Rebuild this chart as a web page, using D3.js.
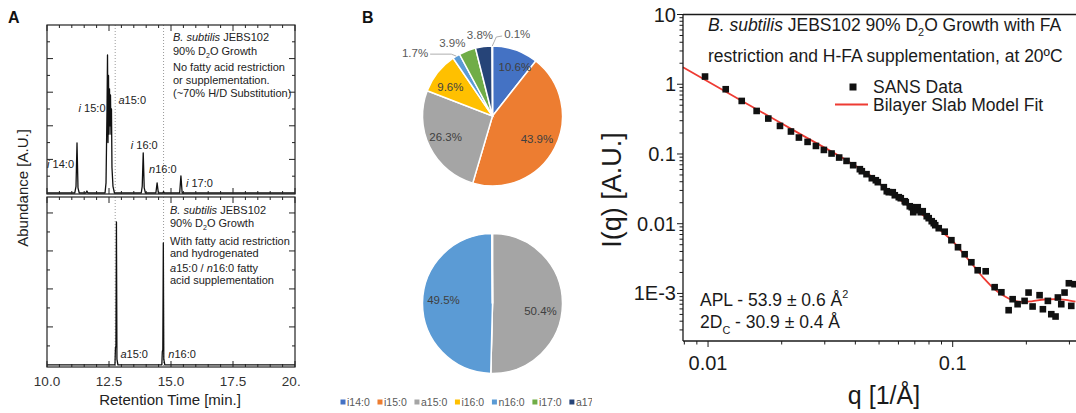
<!DOCTYPE html>
<html><head><meta charset="utf-8">
<script src="https://cdn.jsdelivr.net/npm/d3@7"></script>
<style>
body{margin:0;background:#fff}
svg{display:block}
text{font-family:Arial,"Liberation Sans",Helvetica,sans-serif}
</style>
</head><body>
<svg id="c" width="1076" height="413"></svg>
<script>
// ================= DATA =================
// Panel A – GC chromatograms
const timeMajorTicks = [10, 12.5, 15, 17.5, 20];
const timeTickLabels = ["10.0", "12.5", "15.0", "17.5", "20.0"];
const timeMinorTicks = [10.5, 11, 11.5, 12, 13, 13.5, 14, 14.5, 15.5, 16, 16.5, 17, 18, 18.5, 19, 19.5];
const abundMajorTicks = [0.2, 0.4, 0.6, 0.8];
const abundMinorTicksTop = [0.1, 0.3, 0.5, 0.7, 0.9];
const abundMinorTicksBottom = [0.1, 0.3, 0.5, 0.7];
const referenceTimes = [12.75, 14.7];

const traceTopTime = [10, 11.12, 11.17, 11.21, 11.25, 11.30, 11.57, 11.61, 11.65, 12.34, 12.38, 12.42, 12.44, 12.46, 12.48, 12.50, 12.52, 12.54, 12.56, 12.58, 12.60, 12.62, 12.66, 12.72, 13.80, 13.84, 13.88, 13.92, 13.97, 14.39, 14.44, 14.49, 14.67, 14.70, 14.73, 15.35, 15.40, 15.45, 20];
const traceTopAbund = [0, 0, 0.04, 0.298, 0.03, 0, 0, 0.012, 0, 0, 0.06, 0.50, 0.822, 0.30, 0.70, 0.35, 0.62, 0.40, 0.584, 0.35, 0.50, 0.15, 0.04, 0, 0, 0.04, 0.239, 0.03, 0, 0, 0.060, 0, 0, 0.008, 0, 0, 0.102, 0, 0];

const traceBottomTime = [10, 12.74, 12.76, 12.78, 12.80, 12.82, 12.86, 14.63, 14.65, 14.67, 14.69, 14.71, 14.75, 20];
const traceBottomAbund = [0, 0, 0.09, 0.10, 0.753, 0.03, 0, 0, 0.07, 0.08, 0.642, 0.03, 0, 0];

const peakLabelsTop = [
  {pre: "i", rest: " 14:0", t: 11.21, a: 0.298},
  {pre: "i", rest: " 15:0", t: 12.44, a: 0.822},
  {pre: "a", rest: "15:0", t: 12.56, a: 0.584},
  {pre: "i", rest: " 16:0", t: 13.88, a: 0.239},
  {pre: "n", rest: "16:0", t: 14.44, a: 0.060},
  {pre: "i", rest: " 17:0", t: 15.40, a: 0.102}
];
const peakLabelsBottom = [
  {pre: "a", rest: "15:0", t: 12.80, a: 0},
  {pre: "n", rest: "16:0", t: 14.69, a: 0}
];

// Panel B – pie charts
const pieCategories = ["i14:0", "i15:0", "a15:0", "i16:0", "n16:0", "i17:0", "a17:0", "n17:0"];
const pieColors = ["#4472C4", "#ED7D31", "#A5A5A5", "#FFC000", "#5B9BD5", "#70AD47", "#264478", "#9E480E"];
const pieTopValues = [10.6, 43.9, 26.3, 9.6, 1.7, 3.9, 3.8, 0.1];
const pieBottomValues = [0, 0, 50.4, 0, 49.5, 0, 0, 0.1];

// Panel C – SANS
const sansQ = [0.00972, 0.01181, 0.01373, 0.01580, 0.01763, 0.01968, 0.02182, 0.02352, 0.02552, 0.02760, 0.02975, 0.03198, 0.03435, 0.03682, 0.03918, 0.04173, 0.04252, 0.04444, 0.04671, 0.04850, 0.04942, 0.05229, 0.05377, 0.05481, 0.05689, 0.05799, 0.06020, 0.06135, 0.06370, 0.06429, 0.06677, 0.06801, 0.06898, 0.07063, 0.07197, 0.07403, 0.07543, 0.07832, 0.07980, 0.08209, 0.08366, 0.08484, 0.08768, 0.09276, 0.09879, 0.1051, 0.1119, 0.1192, 0.1265, 0.1364, 0.1484, 0.1581, 0.1693, 0.1758, 0.1842, 0.1967, 0.2042, 0.2121, 0.2265, 0.2337, 0.2449, 0.2529, 0.2633, 0.2691, 0.2778, 0.2865, 0.2984, 0.3052, 0.3148];
const sansI = [1.289, 0.848, 0.576, 0.414, 0.322, 0.2525, 0.210, 0.172, 0.149, 0.1304, 0.1143, 0.1015, 0.0889, 0.0795, 0.0690, 0.0605, 0.0566, 0.0513, 0.0449, 0.0420, 0.0394, 0.0334, 0.0292, 0.0283, 0.0283, 0.0256, 0.0240, 0.0232, 0.0210, 0.0203, 0.0178, 0.01724, 0.01462, 0.0156, 0.01724, 0.01462, 0.01511, 0.01281, 0.0120, 0.01086, 0.01017, 0.00952, 0.00862, 0.00768, 0.0058, 0.0046, 0.00365, 0.0028, 0.00215, 0.00208, 0.00123, 0.00104, 0.000575, 0.000827, 0.000701, 0.000782, 0.00103, 0.00065, 0.000944, 0.000594, 0.000782, 0.000504, 0.000467, 0.000875, 0.000701, 0.00103, 0.0014, 0.000663, 0.001357];
const fitQ = [0.0079, 0.01483, 0.02374, 0.0380, 0.04585, 0.0553, 0.0668, 0.0806, 0.0910, 0.1, 0.1119, 0.1230, 0.1351, 0.1484, 0.1630, 0.1758, 0.1912, 0.2101, 0.2374, 0.2633, 0.2892, 0.3177];
const fitI = [1.753, 0.4966, 0.194, 0.0757, 0.0496, 0.0283, 0.01753, 0.01122, 0.00755, 0.00561, 0.00354, 0.00238, 0.00160, 0.00115, 0.000913, 0.000800, 0.000757, 0.000769, 0.000819, 0.000827, 0.000806, 0.000761];
const qMajorTicks = [0.01, 0.1];
const qTickLabels = ["0.01", "0.1"];
const qMinorTicks = [0.008, 0.009, 0.02, 0.03, 0.04, 0.05, 0.06, 0.07, 0.08, 0.09, 0.2, 0.3, 0.4];
const iMajorTicks = [0.001, 0.01, 0.1, 1, 10];
const iTickLabels = ["1E-3", "0.01", "0.1", "1", "10"];
const iMinorTicks = [3e-4, 4e-4, 5e-4, 6e-4, 7e-4, 8e-4, 9e-4,
  2e-3, 3e-3, 4e-3, 5e-3, 6e-3, 7e-3, 8e-3, 9e-3,
  0.02, 0.03, 0.04, 0.05, 0.06, 0.07, 0.08, 0.09,
  0.2, 0.3, 0.4, 0.5, 0.6, 0.7, 0.8, 0.9,
  2, 3, 4, 5, 6, 7, 8, 9];

// ================= DRAW =================
const svg = d3.select("#c");
const defs = svg.append("defs");
defs.append("clipPath").attr("id", "clipA").append("rect").attr("x", 0).attr("y", 0).attr("width", 300).attr("height", 413);
defs.append("clipPath").attr("id", "clipLeg").append("rect").attr("x", 300).attr("y", 380).attr("width", 292).attr("height", 33);

// ---------- Panel A ----------
const gA = svg.append("g").attr("clip-path", "url(#clipA)");
const tA = d3.scaleLinear().domain([10, 20]).range([47, 295]);
const yTop = d3.scaleLinear().domain([-0.006, 1.0]).range([194, 25]);
const yBot = d3.scaleLinear().domain([-0.011, 0.884]).range([367, 197]);

gA.append("text").attr("x", 8).attr("y", 23).attr("font-size", 16).attr("font-weight", "bold").attr("fill", "#111").text("A");

function drawGCPanel(yS, top, bottom, minorY, times, abund) {
  const L = tA.range()[0], R = tA.range()[1];
  referenceTimes.forEach(t => {
    gA.append("line").attr("x1", tA(t)).attr("x2", tA(t)).attr("y1", top).attr("y2", bottom)
      .attr("stroke", "#9a9a9a").attr("stroke-width", 1).attr("stroke-dasharray", "1,2");
  });
  const pts = times.map((t, i) => [tA(t), yS(abund[i])]);
  gA.append("path").attr("d", d3.line()(pts)).attr("fill", "none").attr("stroke", "#111").attr("stroke-width", 1.3).attr("stroke-linejoin", "round");
  gA.append("rect").attr("x", L).attr("y", top).attr("width", R - L).attr("height", bottom - top)
    .attr("fill", "none").attr("stroke", "#222").attr("stroke-width", 1.2);
  const seg = [];
  timeMajorTicks.forEach(t => { seg.push([tA(t), top, tA(t), top + 6]); seg.push([tA(t), bottom, tA(t), bottom - 6]); });
  timeMinorTicks.forEach(t => { seg.push([tA(t), top, tA(t), top + 3]); seg.push([tA(t), bottom, tA(t), bottom - 3]); });
  abundMajorTicks.forEach(v => { const yy = yS(v); seg.push([L, yy, L + 6, yy]); seg.push([R, yy, R - 6, yy]); });
  minorY.forEach(v => { const yy = yS(v); seg.push([L, yy, L + 3, yy]); seg.push([R, yy, R - 3, yy]); });
  gA.append("g").selectAll("line").data(seg).enter().append("line")
    .attr("x1", d => d[0]).attr("y1", d => d[1]).attr("x2", d => d[2]).attr("y2", d => d[3])
    .attr("stroke", "#222").attr("stroke-width", 1);
}
drawGCPanel(yTop, 25, 194, abundMinorTicksTop, traceTopTime, traceTopAbund);
drawGCPanel(yBot, 197, 367, abundMinorTicksBottom, traceBottomTime, traceBottomAbund);

gA.append("g").selectAll("text").data(timeMajorTicks).enter().append("text")
  .attr("x", d => tA(d)).attr("y", 386).attr("text-anchor", "middle").attr("font-size", 13.5).attr("fill", "#333")
  .text((d, i) => timeTickLabels[i]);
gA.append("text").attr("x", 170).attr("y", 405).attr("text-anchor", "middle").attr("font-size", 15).attr("fill", "#222").text("Retention Time [min.]");
gA.append("text").attr("transform", "translate(28,188) rotate(-90)").attr("text-anchor", "middle").attr("font-size", 15).attr("fill", "#222").text("Abundance [A.U.]");

const topLabelLayout = [
  {dx: -3, dy: 25, anchor: "end"},
  {dx: -2, dy: 57, anchor: "end"},
  {dx: 8, dy: 9, anchor: "start"},
  {dx: 1, dy: -4, anchor: "middle"},
  {dx: -8, dy: -10, anchor: "start"},
  {dx: 5, dy: 11, anchor: "start"}
];
function peakLabel(d, x, y, anchor) {
  const t = gA.append("text").attr("x", x).attr("y", y).attr("text-anchor", anchor).attr("font-size", 11).attr("fill", "#222");
  t.append("tspan").attr("font-style", "italic").text(d.pre);
  t.append("tspan").text(d.rest);
}
peakLabelsTop.forEach((d, i) => {
  const l = topLabelLayout[i];
  peakLabel(d, tA(d.t) + l.dx, yTop(d.a) + l.dy, l.anchor);
});
peakLabelsBottom.forEach((d, i) => {
  peakLabel(d, tA(d.t) + (i === 0 ? 4 : 5), 358, "start");
});

function annot(x, y, parts) {
  const t = gA.append("text").attr("x", x).attr("y", y).attr("font-size", 11).attr("fill", "#222");
  parts.forEach(p => {
    const s = t.append("tspan").text(p.s);
    if (p.it) s.attr("font-style", "italic");
    if (p.sub) s.attr("font-size", 7).attr("dy", 3);
    if (p.back) s.attr("dy", -3);
  });
}
function strainLines(x, ys) {
  annot(x, ys[0], [{s: "B. subtilis", it: true}, {s: " JEBS102"}]);
  annot(x, ys[1], [{s: "90% D"}, {s: "2", sub: true}, {s: "O Growth", back: true}]);
}
strainLines(173, [41, 55]);
annot(173, 71, [{s: "No fatty acid restriction"}]);
annot(173, 84, [{s: "or supplementation."}]);
annot(173, 97, [{s: "(~70% H/D Substitution)"}]);
strainLines(170, [214, 227]);
annot(170, 245, [{s: "With fatty acid restriction"}]);
annot(170, 257, [{s: "and hydrogenated"}]);
annot(170, 272, [{s: "a", it: true}, {s: "15:0 / "}, {s: "n", it: true}, {s: "16:0 fatty"}]);
annot(170, 284, [{s: "acid supplementation"}]);

// ---------- Panel B ----------
svg.append("text").attr("x", 362).attr("y", 23).attr("font-size", 16).attr("font-weight", "bold").attr("fill", "#111").text("B");
const R = 70;
const pie = d3.pie().sort(null).value(d => d);
const arc = d3.arc().innerRadius(0).outerRadius(R);
const arcIn = d3.arc().innerRadius(50).outerRadius(50);
const arcOut = d3.arc().innerRadius(84).outerRadius(84);
const arcEdge = d3.arc().innerRadius(R).outerRadius(R);

function drawPie(cx, cy, values, outsideNudge, insideNudge, showSmall) {
  const g = svg.append("g").attr("transform", `translate(${cx},${cy})`);
  const arcs = pie(values);
  g.selectAll("path").data(arcs).enter().append("path")
    .attr("d", arc).attr("fill", (d, i) => pieColors[i]).attr("stroke", "#fff").attr("stroke-width", 1.5);
  arcs.forEach((d, i) => {
    if (d.data <= 0) return;
    const label = d.data.toFixed(1) + "%";
    if (d.data >= 5) {
      const c = arcIn.centroid(d);
      const n = insideNudge[i] || [0, 0];
      g.append("text").attr("x", c[0] + n[0]).attr("y", c[1] + n[1]).attr("text-anchor", "middle")
        .attr("dominant-baseline", "central").attr("font-size", 11.5).attr("fill", "#404040").text(label);
    } else if (showSmall) {
      const c = arcOut.centroid(d);
      const n = outsideNudge[i] || [0, 0];
      const lx = c[0] + n[0], ly = c[1] + n[1];
      const tx = g.append("text").attr("x", lx).attr("y", ly).attr("text-anchor", "middle")
        .attr("dominant-baseline", "central").attr("font-size", 11.5).attr("fill", "#595959").text(label);
      if (Math.abs(n[0]) > 15) {
        const w = tx.node().getComputedTextLength();
        const e = arcEdge.centroid(d);
        const side = n[0] < 0 ? 1 : -1;
        const endX = lx + side * (w / 2 + 2);
        const pts = n[0] < 0 ? [e, [e[0] - 5, ly + 1], [endX, ly + 1]] : [e, [e[0] + 4, ly + 3], [endX, ly + 2]];
        g.append("path").attr("d", d3.line()(pts)).attr("fill", "none").attr("stroke", "#a6a6a6").attr("stroke-width", 0.9);
      }
    }
  });
}
drawPie(492.5, 116, pieTopValues, {4: [-34, 9], 5: [-10, 5], 6: [-2, 2], 7: [25, 2]}, {0: [6, -2], 3: [-3, 2], 2: [-2, -1]}, true);
drawPie(492.5, 303.5, pieBottomValues, {}, {2: [-2, 7], 4: [1, -3]}, false);

const gLeg = svg.append("g").attr("clip-path", "url(#clipLeg)");
let lx = 343;
pieCategories.forEach((c, i) => {
  gLeg.append("rect").attr("x", lx - 2.5).attr("y", 399.5).attr("width", 5).attr("height", 5).attr("fill", pieColors[i]);
  const t = gLeg.append("text").attr("x", lx + 4).attr("y", 405.5).attr("font-size", 10.5).attr("fill", "#595959").text(c);
  lx += 4 + t.node().getComputedTextLength() + 10.2;
});

// ---------- Panel C ----------
const gC = svg.append("g");
const xq = d3.scaleLog().domain([0.0079, 0.4]).range([683, 1100]);
const yI = d3.scaleLog().domain([2.08e-4, 10]).range([341, 14.5]);
const AX = "#1a1a1a";

const fitPts = fitQ.map((q, i) => [xq(q), yI(fitI[i])]);
gC.append("path").attr("d", d3.line().curve(d3.curveMonotoneX)(fitPts))
  .attr("fill", "none").attr("stroke", "#ee3b33").attr("stroke-width", 1.8);
gC.append("g").selectAll("rect").data(sansQ).enter().append("rect")
  .attr("x", d => xq(d) - 3.3).attr("y", (d, i) => yI(sansI[i]) - 3.3)
  .attr("width", 6.6).attr("height", 6.6).attr("fill", "#111");

gC.append("line").attr("x1", 683).attr("x2", 1076).attr("y1", 14.5).attr("y2", 14.5).attr("stroke", AX).attr("stroke-width", 1.3);
gC.append("line").attr("x1", 683).attr("x2", 683).attr("y1", 14.5).attr("y2", 341).attr("stroke", AX).attr("stroke-width", 1.3);
gC.append("line").attr("x1", 683).attr("x2", 1076).attr("y1", 341).attr("y2", 341).attr("stroke", AX).attr("stroke-width", 1.3);
const segC = [];
qMajorTicks.forEach(q => segC.push([xq(q), 341, xq(q), 347]));
qMinorTicks.forEach(q => segC.push([xq(q), 341, xq(q), 344.5]));
iMajorTicks.forEach(v => segC.push([683, yI(v), 677, yI(v)]));
iMinorTicks.forEach(v => segC.push([683, yI(v), 679.5, yI(v)]));
gC.append("g").selectAll("line").data(segC).enter().append("line")
  .attr("x1", d => d[0]).attr("y1", d => d[1]).attr("x2", d => d[2]).attr("y2", d => d[3])
  .attr("stroke", AX).attr("stroke-width", 1);
gC.append("g").selectAll("text").data(qMajorTicks).enter().append("text")
  .attr("x", d => xq(d)).attr("y", 370).attr("text-anchor", "middle").attr("font-size", 20).attr("fill", "#1a1a1a")
  .text((d, i) => qTickLabels[i]);
gC.append("g").selectAll("text").data(iMajorTicks).enter().append("text")
  .attr("x", 676).attr("y", d => yI(d) + 7).attr("text-anchor", "end").attr("font-size", 20).attr("fill", "#1a1a1a")
  .text((d, i) => iTickLabels[i]);
gC.append("text").attr("x", 884).attr("y", 404).attr("text-anchor", "middle").attr("font-size", 25).attr("fill", "#1a1a1a").text("q [1/Å]");
gC.append("text").attr("transform", "translate(621,190) rotate(-90)").attr("text-anchor", "middle").attr("font-size", 27).attr("fill", "#1a1a1a").text("I(q) [A.U.]");

function textC(x, y, parts, size) {
  const t = gC.append("text").attr("x", x).attr("y", y).attr("font-size", size).attr("fill", "#1a1a1a");
  parts.forEach(p => {
    const s = t.append("tspan").text(p.s);
    if (p.it) s.attr("font-style", "italic");
    if (p.sub) s.attr("font-size", size * 0.62).attr("dy", p.sub);
    if (p.dy) s.attr("dy", p.dy);
  });
}
textC(708, 31, [{s: "B. subtilis", it: true}, {s: " JEBS102 90% D"}, {s: "2", sub: 5}, {s: "O Growth with FA", dy: -5}], 17.5);
textC(708, 62, [{s: "restriction and H-FA supplementation, at 20ºC"}], 17.5);
gC.append("rect").attr("x", 853 - 3.5).attr("y", 87 - 3.5).attr("width", 7).attr("height", 7).attr("fill", "#111");
textC(873, 93, [{s: "SANS Data"}], 17.5);
gC.append("line").attr("x1", 835).attr("x2", 868).attr("y1", 104.5).attr("y2", 104.5).attr("stroke", "#ee3b33").attr("stroke-width", 1.8);
textC(873, 111, [{s: "Bilayer Slab Model Fit"}], 17.5);
textC(700, 306, [{s: "APL - 53.9 ± 0.6 Å"}, {s: "2", sub: -8}], 17.5);
textC(700, 328, [{s: "2D"}, {s: "C", sub: 6}, {s: " - 30.9 ± 0.4 Å", dy: -6}], 17.5);
</script>
</body></html>
